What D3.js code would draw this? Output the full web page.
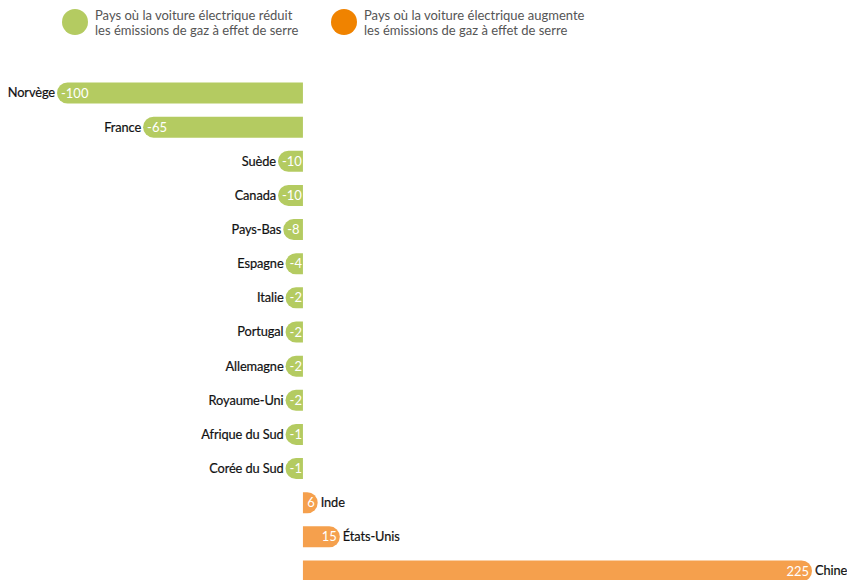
<!DOCTYPE html>
<html>
<head>
<meta charset="utf-8">
<script src="https://cdn.jsdelivr.net/npm/d3@7"></script>
<style>
	body { margin: 0; background: #fff; }
	svg { display: block; font-family: Lato, "Open Sans", sans-serif; }
</style>
</head>
<body>
<svg id="chart" width="847" height="580"></svg>
<script>
/* Data */
var countries = ["Norvège", "France", "Suède", "Canada", "Pays-Bas", "Espagne", "Italie", "Portugal",
	"Allemagne", "Royaume-Uni", "Afrique du Sud", "Corée du Sud", "Inde", "États-Unis", "Chine"];
var values = [-100, -65, -10, -10, -8, -4, -2, -2, -2, -2, -1, -1, 6, 15, 225];
var legendLabels = [
	["Pays où la voiture électrique réduit", "les émissions de gaz à effet de serre"],
	["Pays où la voiture électrique augmente", "les émissions de gaz à effet de serre"]
];

var green = "#b4cb61",
	orange = "#f5a04d",
	legendOrange = "#f08300";

var svg = d3.select("#chart");

/* legend */
var legendX = [75, 344];
var lg = svg.selectAll(".legend")
	.data(legendLabels)
	.enter().append("g")
	.attr("class", "legend")
	.attr("transform", function(d, i) { return "translate(" + legendX[i] + ",22)"; });

lg.append("circle")
	.attr("r", 13)
	.attr("fill", function(d, i) { return i === 0 ? green : legendOrange; });

lg.append("text")
	.attr("y", -2)
	.style("font-size", "13px")
	.style("fill", "#555")
	.selectAll("tspan")
	.data(function(d) { return d; })
	.enter().append("tspan")
	.attr("x", 20)
	.attr("dy", function(d, i) { return i === 0 ? 0 : 15; })
	.text(function(d) { return d; });

/* scales : the Chine bar runs off the chart, so the scale is clamped */
var x = d3.scaleLinear().domain([-100, 207]).range([57, 812]).clamp(true);
var y = d3.scalePoint().domain(countries).range([93, 571]);
var barH = 21, r = barH / 2;
var x0 = x(0);

var rows = svg.selectAll(".row")
	.data(countries.map(function(c, i) { return { name: c, value: values[i] }; }))
	.enter().append("g")
	.attr("class", "row")
	.attr("transform", function(d) { return "translate(0," + y(d.name) + ")"; });

// value labels first, to know the minimum width of small bars
var vlab = rows.append("text")
	.attr("dy", "0.35em")
	.style("font-size", "13px")
	.style("fill", "#fff")
	.text(function(d) { return d.value; });

rows.each(function(d) {
	var tw = d3.select(this).select("text").node().getComputedTextLength();
	d.w = Math.max(Math.abs(x(d.value) - x0), tw + 5);
	d.end = d.value < 0 ? x0 - d.w : x0 + d.w;
});

rows.insert("path", "text")
	.attr("fill", function(d) { return d.value < 0 ? green : orange; })
	.attr("d", function(d) {
		var t = -barH / 2, b = barH / 2;
		if (d.value < 0)
			return "M" + x0 + "," + t + "H" + (d.end + r) +
				"A" + r + "," + r + " 0 0 0 " + (d.end + r) + "," + b +
				"H" + x0 + "Z";
		return "M" + x0 + "," + t + "H" + (d.end - r) +
			"A" + r + "," + r + " 0 0 1 " + (d.end - r) + "," + b +
			"H" + x0 + "Z";
	});

vlab
	.attr("x", function(d) { return d.value < 0 ? d.end + 4 : d.end - 3; })
	.attr("text-anchor", function(d) { return d.value < 0 ? "start" : "end"; });

rows.append("text")
	.attr("x", function(d) { return d.value < 0 ? d.end - 2 : d.end + 3; })
	.attr("dy", "0.35em")
	.attr("text-anchor", function(d) { return d.value < 0 ? "end" : "start"; })
	.style("font-size", "12.8px")
	.style("letter-spacing", "-0.1px")
	.style("fill", "#111")
	.style("stroke", "#111")
	.style("stroke-width", "0.2px")
	.text(function(d) { return d.name; });
</script>
</body>
</html>
